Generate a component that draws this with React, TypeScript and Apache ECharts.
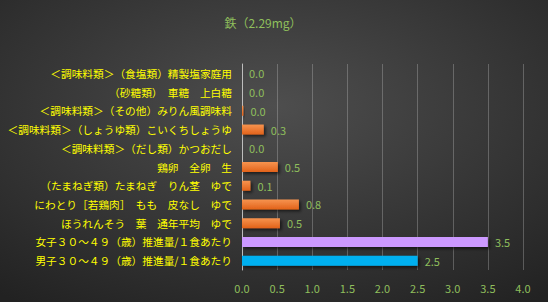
import React, { useEffect, useRef } from "react";
import * as echarts from "echarts";

const title = "鉄（2.29mg）";
const categories = [
  "＜調味料類＞（食塩類）精製塩家庭用",
  "（砂糖類）　車糖　上白糖",
  "＜調味料類＞（その他）みりん風調味料",
  "＜調味料類＞（しょうゆ類）こいくちしょうゆ",
  "＜調味料類＞（だし類）かつおだし",
  "鶏卵　全卵　生",
  "（たまねぎ類）たまねぎ　りん茎　ゆで",
  "にわとり［若鶏肉］　もも　皮なし　ゆで",
  "ほうれんそう　葉　通年平均　ゆで",
  "女子３０～４９（歳）推進量/１食あたり",
  "男子３０～４９（歳）推進量/１食あたり",
];
const values = [0.0, 0.0, 0.02, 0.31, 0.0, 0.51, 0.12, 0.81, 0.54, 3.5, 2.5];
const xTicks = [0, 0.5, 1, 1.5, 2, 2.5, 3, 3.5, 4];

export default function App() {
  const ref = useRef<HTMLDivElement>(null);
  useEffect(() => {
    document.body.style.margin = "0";
    const chart = echarts.init(ref.current!, null, { renderer: "svg" });
    const orange = new echarts.graphic.LinearGradient(0, 0, 0, 1, [
      { offset: 0, color: "#f7944f" },
      { offset: 1, color: "#e2621a" },
    ]);
    const data = values.map((v, i) => {
      let color: any = orange;
      if (i === categories.length - 2) color = "#cc99ff";
      if (i === categories.length - 1) color = "#00b0f0";
      return { value: v, itemStyle: { color } };
    });
    chart.setOption({
      animation: false,
      backgroundColor: {
        type: "radial",
        x: 0.5,
        y: 0.35,
        r: 0.8,
        colorStops: [
          { offset: 0, color: "#4e4e4e" },
          { offset: 1, color: "#222222" },
        ],
      },
      title: {
        text: title,
        left: 258,
        top: 11,
        textAlign: "center",
        textStyle: {
          color: "#8fbf5c",
          fontSize: 12,
          fontWeight: "normal",
          fontFamily: "Noto Sans CJK JP",
        },
      },
      grid: { left: 242, right: 25, top: 64, bottom: 32, containLabel: false },
      xAxis: {
        type: "value",
        min: xTicks[0],
        max: xTicks[xTicks.length - 1],
        interval: 0.5,
        axisLine: { show: false },
        axisTick: { show: false },
        splitLine: { lineStyle: { color: "rgba(200,200,200,0.32)", width: 1 } },
        axisLabel: {
          color: "#8fbf5c",
          fontSize: 11,
          fontFamily: "Noto Sans CJK JP",
          margin: 12,
          formatter: (v: number) => v.toFixed(1),
        },
      },
      yAxis: {
        type: "category",
        data: categories,
        inverse: true,
        axisLine: { show: true, lineStyle: { color: "#bdbdbd", width: 1 } },
        axisTick: { show: false },
        axisLabel: {
          color: "#ffff00",
          fontSize: 10.7,
          fontFamily: "Noto Sans CJK JP",
          margin: 10,
        },
      },
      series: [
        {
          type: "bar",
          data,
          barWidth: 10,
          itemStyle: {
            shadowBlur: 3,
            shadowOffsetX: 2,
            shadowOffsetY: 2,
            shadowColor: "rgba(0,0,0,0.55)",
          },
          label: {
            show: true,
            position: "right",
            distance: 7,
            color: "#8fbf5c",
            fontSize: 11,
            fontFamily: "Noto Sans CJK JP",
            formatter: (p: any) => Number(p.value).toFixed(1),
          },
        },
      ],
    });
    return () => chart.dispose();
  }, []);
  return <div ref={ref} style={{ width: 548, height: 302 }} />;
}
